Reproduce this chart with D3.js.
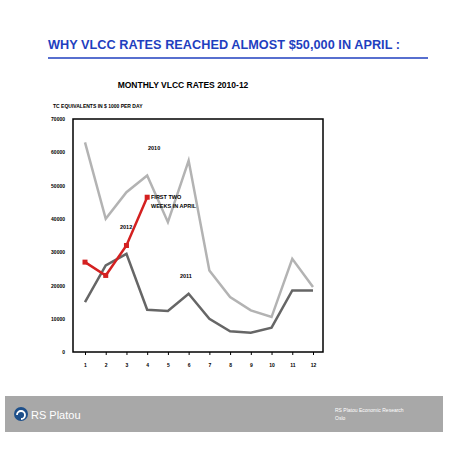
<!DOCTYPE html><html><head><script src="https://cdn.jsdelivr.net/npm/d3@7"></script>
<style>body{margin:0;background:#fff}</style></head><body><svg id="c" width="452" height="452"></svg>
<script>
const months=[1,2,3,4,5,6,7,8,9,10,11,12];
const yTicks=[0,10000,20000,30000,40000,50000,60000,70000];
const s2010=[63000,40000,48000,53000,39000,57500,24500,16500,12500,10500,28000,19500];
const s2011=[15000,26000,29500,12700,12300,17500,10000,6200,5800,7300,18500,18500];
const s2012=[27000,23000,32000,46500];
const svg=d3.select("#c");
const F="Liberation Sans, Arial, sans-serif";
svg.append("text").attr("x",48).attr("y",49).attr("fill","#1f3fbf").attr("font-family",F).attr("font-weight","bold").attr("font-size",12.7).attr("textLength",352).text("WHY VLCC RATES REACHED ALMOST $50,000 IN APRIL :");
svg.append("line").attr("x1",48).attr("x2",428).attr("y1",58).attr("y2",58).attr("stroke","#1f3fbf").attr("stroke-width",1.5);
svg.append("text").attr("x",183).attr("y",88).attr("text-anchor","middle").attr("font-family",F).attr("font-weight","bold").attr("font-size",8.5).text("MONTHLY VLCC RATES 2010-12");
svg.append("text").attr("x",53).attr("y",108).attr("font-family",F).attr("font-weight","bold").attr("font-size",5).text("TC EQUIVALENTS IN $ 1000 PER DAY");
const x=d3.scaleLinear().domain([1,12]).range([85,313]);
const y=d3.scaleLinear().domain([0,70000]).range([352,119]);
svg.append("rect").attr("x",73).attr("y",119).attr("width",250).attr("height",233).attr("fill","none").attr("stroke","#000").attr("stroke-width",1.5);
const ya=svg.append("g").attr("transform","translate(73,0)").call(d3.axisLeft(y).tickValues(yTicks).tickSize(0).tickPadding(8).tickFormat(d3.format("d")));
ya.select(".domain").remove();
ya.selectAll("text").attr("font-family",F).attr("font-weight","bold").attr("font-size",5);
const xa=svg.append("g").attr("transform","translate(0,352)").call(d3.axisBottom(x).tickValues(months).tickSize(3).tickPadding(8).tickFormat(d3.format("d")));
xa.select(".domain").remove();
xa.selectAll("text").attr("font-family",F).attr("font-weight","bold").attr("font-size",5);
const line=d3.line().x((d,i)=>x(months[i])).y(d=>y(d));
svg.append("path").attr("d",line(s2010)).attr("fill","none").attr("stroke","#b3b3b3").attr("stroke-width",2.5);
svg.append("path").attr("d",line(s2011)).attr("fill","none").attr("stroke","#666").attr("stroke-width",2.5);
svg.append("path").attr("d",line(s2012)).attr("fill","none").attr("stroke","#d42020").attr("stroke-width",2.5);
svg.selectAll(".m").data(s2012).enter().append("rect").attr("x",(d,i)=>x(months[i])-2.5).attr("y",d=>y(d)-2.5).attr("width",5).attr("height",5).attr("fill","#d42020");
const lab=(t,xx,yy)=>svg.append("text").attr("x",xx).attr("y",yy).attr("font-family",F).attr("font-weight","bold").attr("font-size",5.5).text(t);
lab("2010",148,150);lab("2012",120,229);lab("2011",180,278);
lab("FIRST TWO",151,199);lab("WEEKS IN APRIL",151,208);
svg.append("rect").attr("x",5).attr("y",396).attr("width",438).attr("height",36).attr("fill","#a8a8a8");
svg.append("circle").attr("cx",21).attr("cy",414).attr("r",7).attr("fill","#1d4f8a");
svg.append("path").attr("d","M17,415 a4,4 0 1,1 4,4").attr("fill","none").attr("stroke","#fff").attr("stroke-width",1.8);
svg.append("text").attr("x",31).attr("y",419).attr("fill","#fff").attr("font-family",F).attr("font-size",11).text("RS Platou");
svg.append("text").attr("x",335).attr("y",412).attr("fill","#fff").attr("font-family",F).attr("font-size",5).text("RS Platou Economic Research");
svg.append("text").attr("x",335).attr("y",420).attr("fill","#fff").attr("font-family",F).attr("font-size",5).text("Oslo");
</script></body></html>
